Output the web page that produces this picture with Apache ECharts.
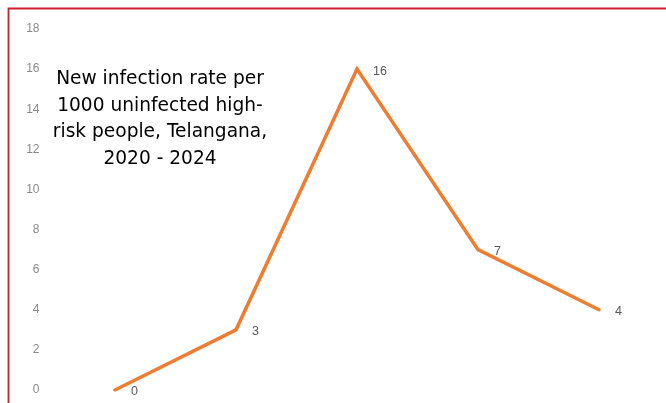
<!DOCTYPE html>
<html>
<head>
<meta charset="utf-8">
<style>
  html, body { margin: 0; padding: 0; background: #fff; }
  #chart { width: 666px; height: 403px; }
</style>
<script src="https://cdn.jsdelivr.net/npm/echarts@6/dist/echarts.min.js"></script>
</head>
<body>
<div id="chart"></div>
<script>
// Years on the category axis and the new-infection rate for each
const years = ['2020', '2021', '2022', '2023', '2024'];
const rates = [0, 3, 16, 7, 4];
const yTicks = [0, 2, 4, 6, 8, 10, 12, 14, 16, 18];

const chart = echarts.init(document.getElementById('chart'), null, { renderer: 'canvas' });

chart.setOption({
  animation: false,
  backgroundColor: '#ffffff',
  grid: { left: 54.5, right: 6.5, top: 29, bottom: 13, containLabel: false },
  xAxis: {
    type: 'category',
    data: years,
    boundaryGap: true,
    axisLine: { show: false },
    axisTick: { show: false },
    axisLabel: { show: false },
    splitLine: { show: false }
  },
  yAxis: {
    type: 'value',
    min: yTicks[0],
    max: yTicks[yTicks.length - 1],
    interval: 2,
    axisLine: { show: false },
    axisTick: { show: false },
    splitLine: { show: false },
    axisLabel: {
      margin: 15,
      color: '#8a8a8a',
      fontSize: 12,
      fontFamily: 'Liberation Sans, Arial, sans-serif',
      formatter: (v) => (yTicks.includes(v) ? String(v) : '')
    }
  },
  series: [{
    type: 'line',
    data: rates,
    symbol: 'circle',
    symbolSize: 2,
    showSymbol: true,
    itemStyle: { color: '#ed7d31' },
    lineStyle: { color: '#ed7d31', width: 3.5, cap: 'round', join: 'miter' },
    label: {
      show: true,
      position: 'right',
      distance: 15,
      offset: [0, 2],
      color: '#595959',
      fontSize: 12.5,
      fontFamily: 'Liberation Sans, Arial, sans-serif'
    }
  }],
  graphic: [
    {
      type: 'rect',
      silent: true,
      shape: { x: 8.5, y: 8.5, width: 800, height: 600 },
      style: { fill: 'none', stroke: '#cc1f2b', lineWidth: 1.8 }
    },
    {
      type: 'text',
      silent: true,
      x: 160,
      y: 66,
      style: {
        text: 'New infection rate per\n1000 uninfected high-\nrisk people, Telangana,\n2020 - 2024',
        align: 'center',
        verticalAlign: 'top',
        fill: '#000000',
        fontSize: 18.6,
        lineHeight: 26.5,
        fontFamily: 'DejaVu Sans, Liberation Sans, sans-serif'
      }
    }
  ]
});
</script>
</body>
</html>
